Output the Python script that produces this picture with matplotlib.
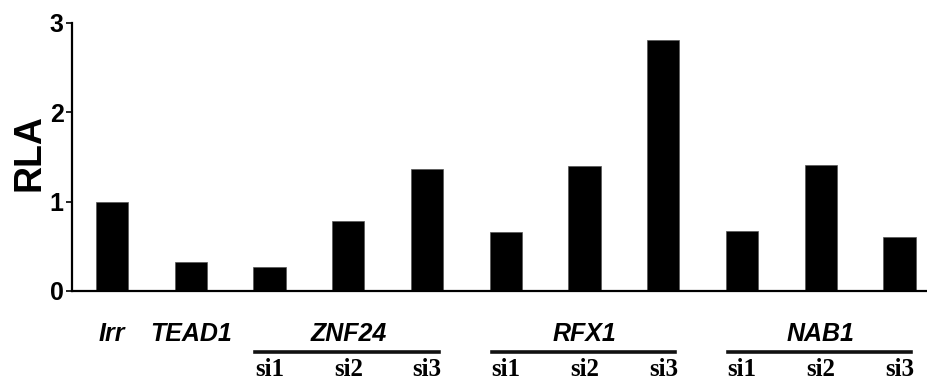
import matplotlib
matplotlib.use("Agg")
import matplotlib.pyplot as plt
from matplotlib.lines import Line2D
import matplotlib.transforms as mtransforms

# Data
bar_labels = ["Irr", "TEAD1", "si1", "si2", "si3", "si1", "si2", "si3", "si1", "si2", "si3"]
values = [1.00, 0.33, 0.27, 0.78, 1.37, 0.66, 1.40, 2.81, 0.67, 1.41, 0.60]
single_labels = ["Irr", "TEAD1"]
groups = ["ZNF24", "RFX1", "NAB1"]
group_members = [[2, 3, 4], [5, 6, 7], [8, 9, 10]]
yticks = [0, 1, 2, 3]

sans = "Liberation Sans"
serif = "Liberation Serif"

fig = plt.figure(figsize=(9.27, 3.9), dpi=100)
ax = fig.add_axes([72/927, 1-291/390, 1-72/927, 268/390])

x = list(range(len(values)))
ax.bar(x, values, width=0.41, color="black", edgecolor="#555555", linewidth=0.5)

ax.set_xlim(-0.51, 10.35)
ax.set_ylim(0, 3)
ax.set_yticks(yticks)
ax.set_yticklabels([str(t) for t in yticks], fontsize=18, fontweight="bold", family=sans)
ax.tick_params(axis="y", length=4, width=1.2, pad=2, direction="out")
ax.set_xticks([])
for s in ["top", "right"]:
    ax.spines[s].set_visible(False)
for s in ["left", "bottom"]:
    ax.spines[s].set_linewidth(1.6)

fig.text(30/927, 1-153/390, "RLA", rotation=90, ha="center", va="center",
         fontsize=27, fontweight="bold", family=sans)

trans = mtransforms.blended_transform_factory(ax.transData, ax.transAxes)
y_gene = (291-334)/268
y_line = (291-352)/268
y_si = (291-370)/268

for i, lab in enumerate(single_labels):
    ax.text(i, y_gene, lab, transform=trans, ha="center", va="center",
            fontsize=18, fontweight="bold", style="italic", family=sans)

for g, members in zip(groups, group_members):
    mid = members[len(members)//2]
    ax.text(mid, y_gene, g, transform=trans, ha="center", va="center",
            fontsize=18, fontweight="bold", style="italic", family=sans)
    line = Line2D([members[0]-0.18, members[-1]+0.15], [y_line, y_line],
                  transform=trans, color="#111111", linewidth=2.6, clip_on=False)
    ax.add_line(line)
    for m in members:
        ax.text(m, y_si, bar_labels[m], transform=trans, ha="center", va="center",
                fontsize=18, fontweight="bold", family=serif)

fig.savefig("out.png", dpi=100)
